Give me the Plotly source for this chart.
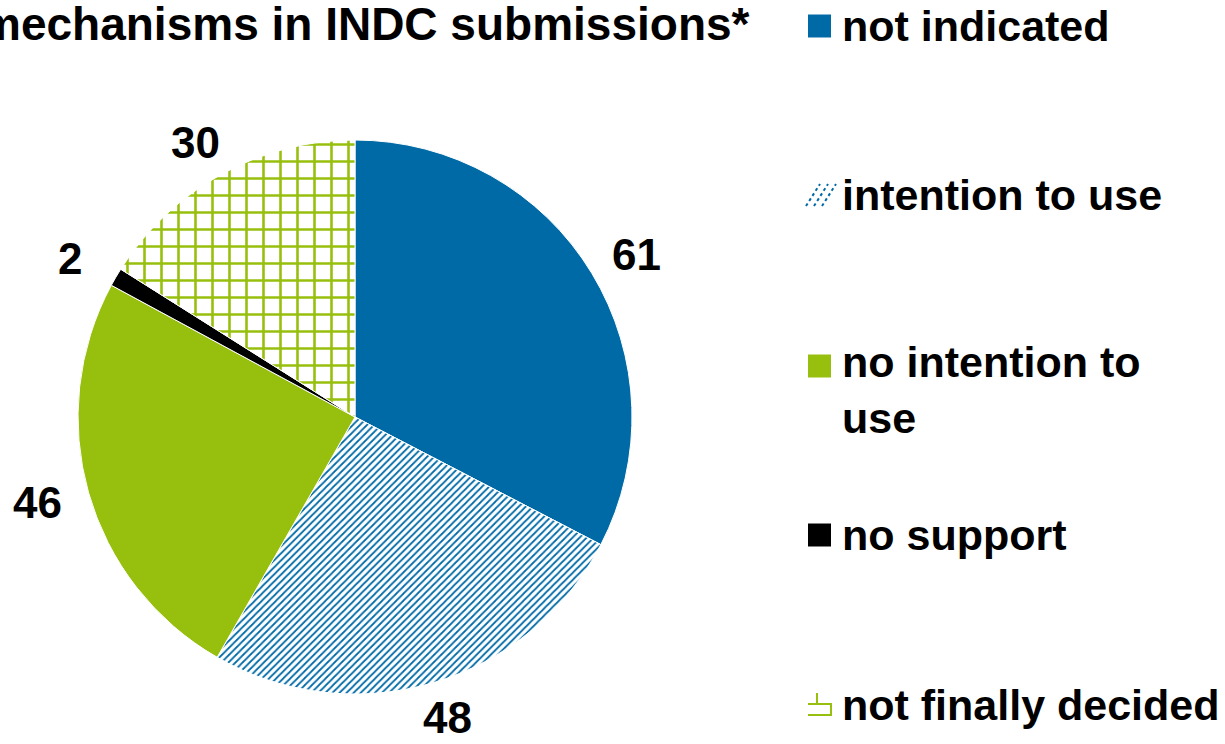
import numpy as np
import plotly.graph_objects as go

categories = ["not indicated", "intention to use", "no intention to use", "no support", "not finally decided"]
values = [61, 48, 46, 2, 30]
legend_labels = ["not indicated", "intention to use", "no intention to<br>use", "no support", "not finally decided"]
title_text = "Use of market mechanisms in INDC submissions*"

BLUE = "#006AA6"
GREEN = "#97BF0D"
BLACK = "#000000"

W, H = 1225, 744
cx, cy, r = 355, 417, 277

fig = go.Figure()
fig.add_trace(go.Pie(
    labels=categories,
    values=values,
    sort=False,
    direction="clockwise",
    rotation=0,
    domain=dict(x=[(cx - r) / W, (cx + r) / W], y=[1 - (cy + r) / H, 1 - (cy - r) / H]),
    marker=dict(
        colors=[BLUE, "white", GREEN, BLACK, "white"],
        line=dict(color="white", width=1),
        pattern=dict(
            shape=["", "/", "", "", "+"],
            fgcolor=[BLUE, BLUE, GREEN, BLACK, GREEN],
            bgcolor=[BLUE, "white", GREEN, BLACK, "white"],
            size=[8, 5, 8, 8, 17],
            solidity=[0.2, 0.35, 0.2, 0.2, 0.28],
            fillmode="replace",
        ),
    ),
    textinfo="none",
    showlegend=False,
    hoverinfo="label+value",
))

# value labels placed outside each slice, positioned from the data
vals = np.array(values, dtype=float)
mids = (np.cumsum(vals) - vals / 2) / vals.sum() * 2 * np.pi
lab_rx = 1.19 * r
lab_ry = 1.13 * r
for v, a in zip(values, mids):
    px = cx + lab_rx * np.sin(a)
    py = cy - lab_ry * np.cos(a)
    fig.add_annotation(
        text=str(v), xref="paper", yref="paper", x=px / W, y=1 - py / H,
        xanchor="center", yanchor="middle", showarrow=False, borderpad=0,
        font=dict(family="Liberation Sans, Arial", size=44, color="black", weight="bold"),
    )

# title (left part runs off the page like the original)
fig.add_annotation(
    text=title_text, xref="paper", yref="paper",
    x=752 / W, y=1 - 24 / H, xanchor="right", yanchor="middle",
    showarrow=False,
    font=dict(family="Liberation Sans Narrow, Arial Narrow, Liberation Sans", size=46, color="black", weight="bold"),
)

# manual legend
leg_y = [26, 195, 366, 535, 705]
text_y = [26, 195, 390, 535, 705]
sq_x0, sq_x1 = 808, 831
shapes = []
for i, (lab, yc, ty) in enumerate(zip(legend_labels, leg_y, text_y)):
    y0 = 1 - (yc - 11.5) / H
    y1 = 1 - (yc + 11.5) / H
    if i in (0, 2, 3):
        col = [BLUE, None, GREEN, BLACK][i]
        shapes.append(dict(type="rect", xref="paper", yref="paper",
                           x0=sq_x0 / W, x1=sq_x1 / W, y0=y1, y1=y0,
                           fillcolor=col, line=dict(width=0)))
    elif i == 1:
        for k in range(3):
            off = k * 8
            shapes.append(dict(type="line", xref="paper", yref="paper",
                               x0=(sq_x0 + off - 2) / W, y0=1 - (yc + 11) / H,
                               x1=(sq_x0 + off + 12) / W, y1=1 - (yc - 11) / H,
                               line=dict(color=BLUE, width=2, dash="dot")))
    else:
        path = (f"M {sq_x0/W},{1-(yc+10)/H} L {sq_x1/W},{1-(yc+10)/H} L {sq_x1/W},{1-(yc-1)/H} "
                f"L {sq_x0/W},{1-(yc-1)/H} M {(sq_x0+9)/W},{1-(yc-1)/H} L {(sq_x0+9)/W},{1-(yc-12)/H}")
        shapes.append(dict(type="path", xref="paper", yref="paper", path=path,
                           line=dict(color=GREEN, width=2)))
    fig.add_annotation(
        text=lab, xref="paper", yref="paper", x=840 / W, y=1 - ty / H,
        xanchor="left", yanchor="middle", align="left", showarrow=False,
        font=dict(family="Liberation Sans, Arial", size=43, color="black", weight="bold"),
    )

fig.update_layout(
    width=W, height=H,
    margin=dict(l=0, r=0, t=0, b=0),
    paper_bgcolor="white", plot_bgcolor="white",
    shapes=shapes,
)

fig.write_html("out.html")
